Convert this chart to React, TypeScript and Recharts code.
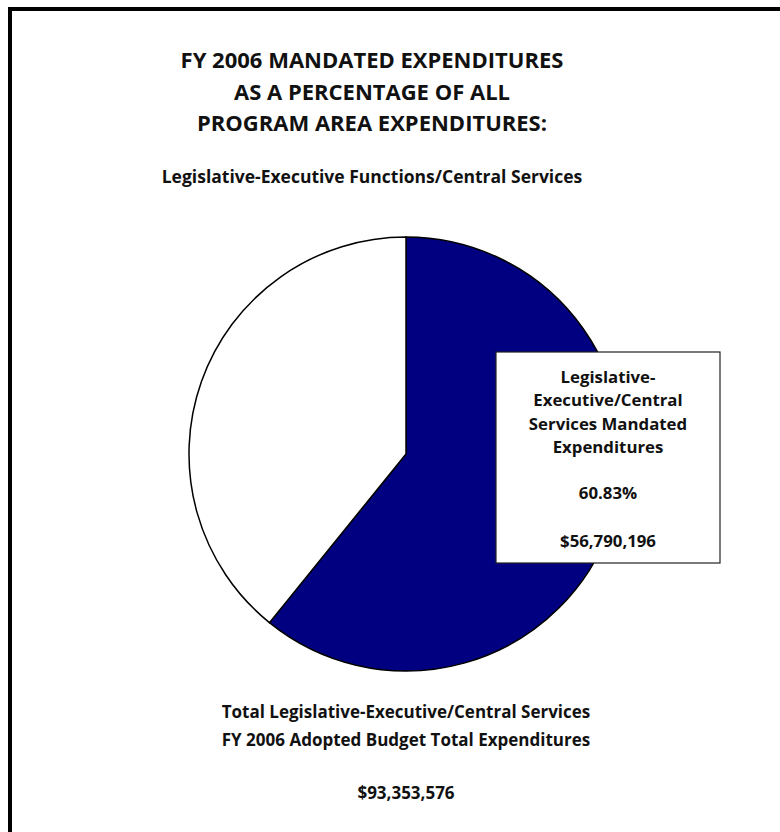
import { PieChart, Pie, Cell } from 'recharts';

const sliceNames = ['Legislative-Executive/Central Services Mandated Expenditures', 'Other Expenditures'];
const sliceValues = [56790196, 36563380];
const sliceColors = ['#000080', '#ffffff'];
const titleLines = ['FY 2006 MANDATED EXPENDITURES', 'AS A PERCENTAGE OF ALL', 'PROGRAM AREA EXPENDITURES:'];
const subtitle = 'Legislative-Executive Functions/Central Services';
const boxLines = ['Legislative-', 'Executive/Central', 'Services Mandated', 'Expenditures'];
const boxPercent = '60.83%';
const boxAmount = '$56,790,196';
const totalLines = ['Total Legislative-Executive/Central Services', 'FY 2006 Adopted Budget Total Expenditures'];
const totalAmount = '$93,353,576';

const data = sliceNames.map((name, i) => ({ name, value: sliceValues[i] }));

const FONT = '"Open Sans", Lato, sans-serif';

function BoxLabel(props: any) {
  if (props.index !== 0) return null;
  const { cx, cy } = props;
  const x = cx + 90;
  const y = cy - 102;
  const w = 224;
  const h = 211;
  const mid = x + w / 2;
  return (
    <g>
      <rect x={x} y={y} width={w} height={h} fill="#fff" stroke="#222" strokeWidth={1.2} />
      {boxLines.map((t, i) => (
        <text key={t} x={mid} y={y + 31 + i * 23.3} textAnchor="middle" fontFamily={FONT} fontWeight={700} fontSize={16.8} fill="#111">
          {t}
        </text>
      ))}
      <text x={mid} y={y + 147} textAnchor="middle" fontFamily={FONT} fontWeight={700} fontSize={16.8} fill="#111">
        {boxPercent}
      </text>
      <text x={mid} y={y + 195} textAnchor="middle" fontFamily={FONT} fontWeight={700} fontSize={16.8} fill="#111">
        {boxAmount}
      </text>
    </g>
  );
}

export default function App() {
  return (
    <div style={{ position: 'fixed', left: 0, top: 0, width: 780, height: 832, overflow: 'hidden', background: '#fff' }}>
      <div style={{ position: 'absolute', left: 8, top: 7, width: 772, height: 4, background: '#000' }} />
      <div style={{ position: 'absolute', left: 8, top: 7, width: 4, height: 825, background: '#000' }} />
      <div style={{ position: 'absolute', left: 0, top: 0 }}>
        <PieChart width={780} height={832} margin={{ top: 0, right: 0, bottom: 0, left: 0 }}>
          <Pie
            data={data}
            dataKey="value"
            nameKey="name"
            cx={406}
            cy={454}
            outerRadius={217}
            startAngle={90}
            endAngle={-270}
            stroke="#000"
            strokeWidth={1.5}
            label={BoxLabel}
            labelLine={false}
            isAnimationActive={false}
          >
            {data.map((d, i) => (
              <Cell key={d.name} fill={sliceColors[i]} />
            ))}
          </Pie>
        </PieChart>
      </div>
      <div style={{ position: 'absolute', left: 122, top: 44, width: 500, textAlign: 'center', fontFamily: FONT, fontWeight: 700, fontSize: 22, lineHeight: '31.5px', color: '#111' }}>
        {titleLines.map((t) => (
          <div key={t}>{t}</div>
        ))}
      </div>
      <div style={{ position: 'absolute', left: 72, top: 164, width: 600, textAlign: 'center', fontFamily: FONT, fontWeight: 700, fontSize: 17.5, lineHeight: '24px', color: '#111' }}>
        {subtitle}
      </div>
      <div style={{ position: 'absolute', left: 156, top: 698, width: 500, textAlign: 'center', fontFamily: FONT, fontWeight: 700, fontSize: 17, lineHeight: '28px', color: '#111' }}>
        {totalLines.map((t) => (
          <div key={t}>{t}</div>
        ))}
        <div style={{ marginTop: 25 }}>{totalAmount}</div>
      </div>
    </div>
  );
}
